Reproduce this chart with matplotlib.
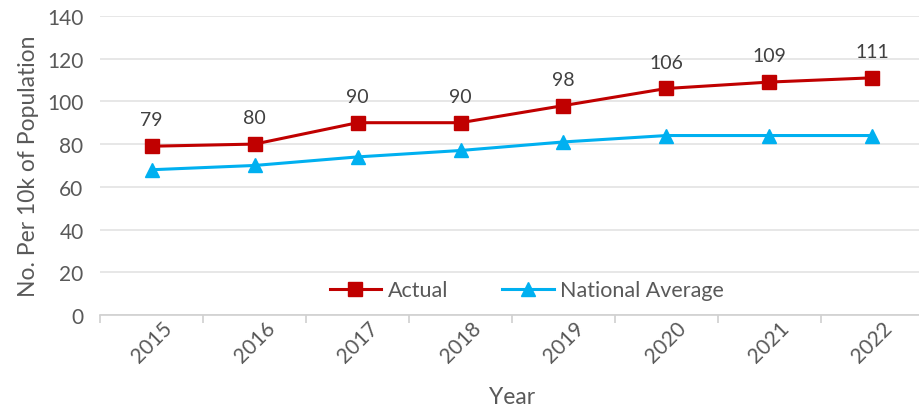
import matplotlib.pyplot as plt

years = ["2015", "2016", "2017", "2018", "2019", "2020", "2021", "2022"]
actual = [79, 80, 90, 90, 98, 106, 109, 111]
national = [68, 70, 74, 77, 81, 84, 84, 84]

plt.rcParams['font.family'] = ['Lato', 'DejaVu Sans']
grey = "#595959"

fig = plt.figure(figsize=(9.2, 4.1), dpi=100)
ax = fig.add_axes([0.109, 0.229, 0.895, 0.73])

x = list(range(len(years)))
ax.plot(x, actual, color="#C00000", lw=2.2, marker="s", ms=10, label="Actual")
ax.plot(x, national, color="#00B0F0", lw=2.2, marker="^", ms=10, label="National Average")

# value labels above the red line
for xi, v in zip(x, actual):
    ax.annotate(str(v), (xi, v), xytext=(0, 19), textcoords="offset points",
                ha="center", va="center", fontsize=14, color="#404040")

ax.set_ylim(0, 140)
ax.set_yticks(range(0, 141, 20))
ax.set_xlim(-0.5, 7.5)
ax.set_xticks(x)
ax.set_xticklabels(years, rotation=45, ha="center", va="top")
ax.set_xticks([i - 0.5 for i in range(len(years) + 1)], minor=True)

ax.grid(axis="y", color="#E3E3E3", lw=1.2)
ax.set_axisbelow(True)
for s in ["top", "right", "left"]:
    ax.spines[s].set_visible(False)
ax.spines["bottom"].set_color("#D0D0D0")
ax.spines["bottom"].set_linewidth(1.2)

ax.tick_params(axis="y", length=0, labelsize=15, labelcolor=grey, pad=12)
ax.tick_params(axis="x", which="major", length=0, labelsize=15, labelcolor=grey, pad=2)
ax.tick_params(axis="x", which="minor", length=6, color="#D0D0D0", width=1.2)

ax.set_ylabel("No. Per 10k of Population", fontsize=16.5, color=grey, labelpad=6)
ax.set_xlabel("Year", fontsize=16.5, color=grey, labelpad=14)

ax.legend(loc="lower center", bbox_to_anchor=(0.518, -0.015), ncol=2, frameon=False,
          fontsize=15.5, labelcolor=grey, handlelength=2.4, columnspacing=2.5, handletextpad=0.3)

fig.savefig("out.png", dpi=100)
